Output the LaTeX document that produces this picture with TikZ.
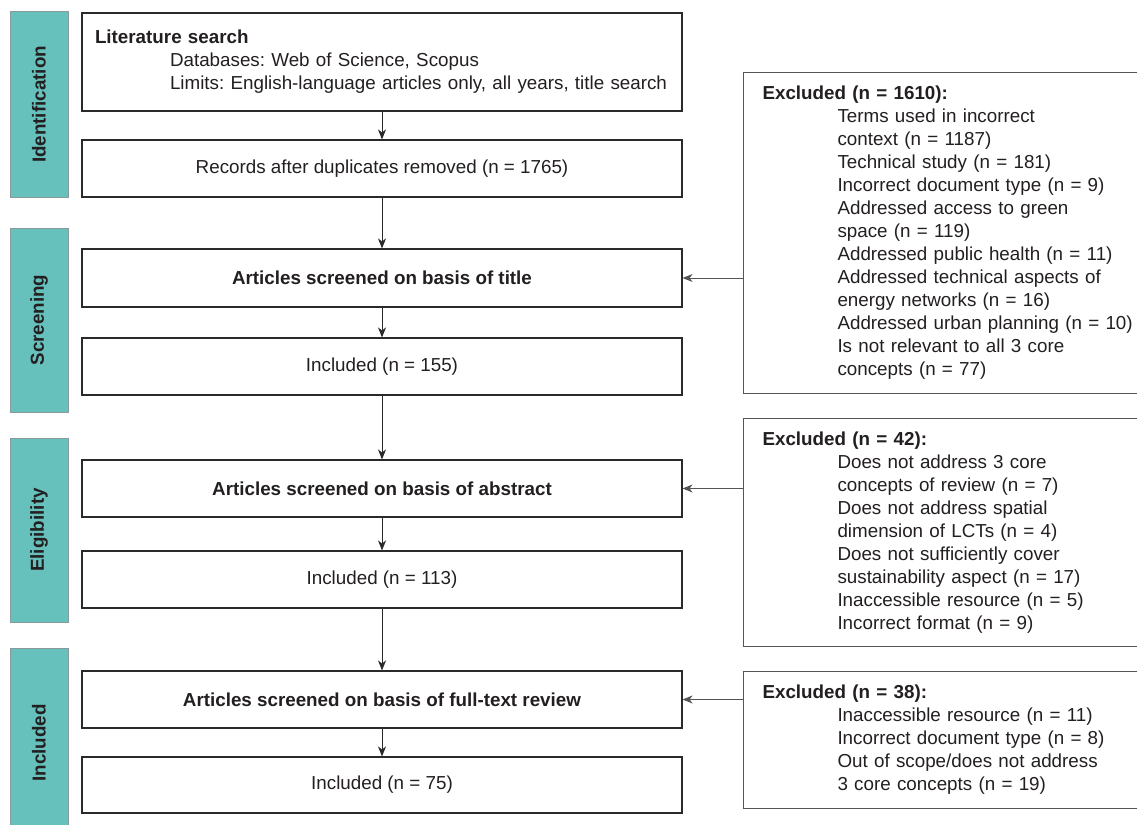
\documentclass[tikz,border=0pt]{standalone}
\usepackage{fontspec}
\setmainfont{Liberation Sans}
\usetikzlibrary{arrows.meta}
\definecolor{tealfill}{HTML}{66C1BD}
\definecolor{tealedge}{HTML}{8A9A99}
\definecolor{ink}{HTML}{231F20}
\definecolor{edge}{HTML}{2A2A2A}
\definecolor{exedge}{HTML}{555555}
\tikzset{
  base/.style={font=\fontsize{18.8}{23}\selectfont, text=ink},
  mainbox/.style={base, draw=edge, line width=1.1pt, fill=white, minimum width=600pt, inner sep=0pt, align=center},
  exbox/.style={base, draw=exedge, line width=1pt, fill=white, anchor=north west, minimum width=440pt, text width=402pt, inner xsep=19pt, inner ysep=0pt, align=left},
  phase/.style={base, draw=tealedge, line width=1pt, fill=tealfill, minimum height=58pt, inner sep=0pt, rotate=90, font=\fontsize{18.8}{23}\selectfont\bfseries, text=ink},
  arr/.style={draw=edge, line width=1pt, -{Stealth[length=10pt,width=8pt,inset=3pt]}}
}
\newcommand{\ind}{\hspace*{75pt}}
\begin{document}
\frenchspacing
\begin{tikzpicture}[x=1pt,y=-1pt]
\useasboundingbox (0,0) rectangle (1137,824);
\fill[white] (0,0) rectangle (1137,824);

% phase labels
\node[phase, minimum width=185pt] (pid) at (39,104.5) {Identification};
\node[phase, minimum width=184pt] (psc) at (39,320) {Screening};
\node[phase, minimum width=184pt] (pel) at (39,530) {Eligibility};
\node[phase, minimum width=190pt] (pin) at (39,743) {Included};

% main boxes
\node[mainbox, minimum height=98pt, text width=574pt, inner xsep=13pt, align=left] (lit) at (382,62)
  {\mbox{\textbf{Literature search}}\\
   \mbox{\ind Databases: Web of Science, Scopus}\\
   \mbox{\ind Limits: English-language articles only, all years, title search}};
\node[mainbox, minimum height=57pt] (rec) at (382,168.5) {Records after duplicates removed (n = 1765)};
\node[mainbox, minimum height=58pt] (tit) at (382,278) {\textbf{Articles screened on basis of title}};
\node[mainbox, minimum height=57pt] (inc1) at (382,366.5) {Included (n = 155)};
\node[mainbox, minimum height=57pt] (abs) at (382,488.5) {\textbf{Articles screened on basis of abstract}};
\node[mainbox, minimum height=57pt] (inc2) at (382,579.5) {Included (n = 113)};
\node[mainbox, minimum height=57pt] (full) at (382,699.5) {\textbf{Articles screened on basis of full-text review}};
\node[mainbox, minimum height=56pt] (inc3) at (382,785) {Included (n = 75)};

% excluded boxes
\node[exbox, minimum height=321pt] (ex1) at (743,72)
  {\textbf{Excluded (n = 1610):}\\
   \ind Terms used in incorrect\\
   \ind context (n = 1187)\\
   \ind Technical study (n = 181)\\
   \ind Incorrect document type (n = 9)\\
   \ind Addressed access to green\\
   \ind space (n = 119)\\
   \ind Addressed public health (n = 11)\\
   \ind Addressed technical aspects of\\
   \ind energy networks (n = 16)\\
   \ind Addressed urban planning (n = 10)\\
   \ind Is not relevant to all 3 core\\
   \ind concepts (n = 77)};
\node[exbox, minimum height=228pt] (ex2) at (743,418)
  {\textbf{Excluded (n = 42):}\\
   \ind Does not address 3 core\\
   \ind concepts of review (n = 7)\\
   \ind Does not address spatial\\
   \ind dimension of LCTs (n = 4)\\
   \ind Does not sufficiently cover\\
   \ind sustainability aspect (n = 17)\\
   \ind Inaccessible resource (n = 5)\\
   \ind Incorrect format (n = 9)};
\node[exbox, minimum height=137pt] (ex3) at (743,671)
  {\textbf{Excluded (n = 38):}\\
   \ind Inaccessible resource (n = 11)\\
   \ind Incorrect document type (n = 8)\\
   \ind Out of scope/does not address\\
   \ind 3 core concepts (n = 19)};

% vertical arrows
\draw[arr] (lit) -- (rec);
\draw[arr] (rec) -- (tit);
\draw[arr] (tit) -- (inc1);
\draw[arr] (inc1) -- (abs);
\draw[arr] (abs) -- (inc2);
\draw[arr] (inc2) -- (full);
\draw[arr] (full) -- (inc3);

% horizontal arrows
\draw[arr, draw=exedge] (tit.east -| ex1.west) -- (tit.east);
\draw[arr, draw=exedge] (abs.east -| ex2.west) -- (abs.east);
\draw[arr, draw=exedge] (full.east -| ex3.west) -- (full.east);
\end{tikzpicture}
\end{document}
